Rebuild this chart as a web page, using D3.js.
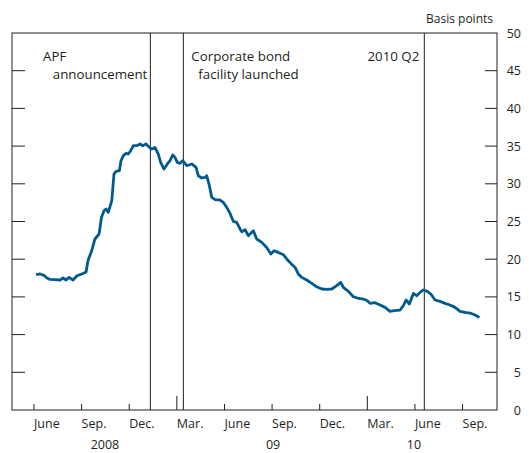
<!DOCTYPE html>
<html><head><meta charset="utf-8">
<script src="https://cdn.jsdelivr.net/npm/d3@7"></script>
<style>
body{margin:0;background:#fff;}
text{font-family:"Open Sans",sans-serif;fill:#231f20;}
</style></head>
<body><svg id="c" width="529" height="453"></svg>
<script>
// months since 1 Jan 2008 (fractional)
const months = [5.13,5.38,5.63,5.82,6.01,6.32,6.64,6.83,7.02,7.21,7.46,7.71,8.02,8.28,8.40,8.65,8.84,9.10,9.25,9.41,9.54,9.68,9.90,10.04,10.17,10.38,10.48,10.63,10.80,10.94,11.09,11.26,11.47,11.68,11.85,12.06,12.27,12.42,12.62,12.83,12.98,13.19,13.40,13.57,13.74,13.88,14.03,14.20,14.37,14.62,14.94,15.21,15.35,15.57,15.78,15.88,16.05,16.20,16.41,16.72,16.93,17.14,17.35,17.56,17.77,17.98,18.09,18.30,18.50,18.82,19.03,19.35,19.66,19.92,20.12,20.39,20.71,20.92,21.18,21.45,21.65,21.87,22.18,22.50,22.81,23.13,23.44,23.76,24.07,24.33,24.49,24.81,25.12,25.37,25.75,26.00,26.17,26.49,26.80,27.12,27.43,27.68,28.06,28.27,28.44,28.65,28.90,29.11,29.32,29.53,29.78,30.00,30.27,30.58,30.90,31.21,31.53,31.84,32.16,32.47,32.79,33.06];
const spread = [17.94,18.04,17.85,17.51,17.32,17.28,17.24,17.51,17.24,17.59,17.24,17.81,18.04,18.30,19.80,21.22,22.68,23.34,25.54,26.43,26.66,26.21,27.76,31.30,31.64,31.74,33.06,33.73,34.03,33.95,34.39,35.05,35.05,35.28,35.05,35.28,34.83,34.62,34.83,33.95,32.84,31.96,32.63,33.06,33.82,33.50,32.84,32.71,33.06,32.40,32.63,32.18,31.07,30.77,30.85,31.07,29.75,28.20,27.89,27.85,27.53,26.87,26.07,25.01,24.88,24.01,23.65,23.91,23.12,23.78,22.68,22.23,21.56,20.69,21.13,20.90,20.60,20.03,19.44,18.91,18.04,17.59,17.24,16.79,16.35,16.05,15.99,16.05,16.49,16.92,16.26,15.73,15.03,14.85,14.72,14.50,14.14,14.23,13.93,13.61,13.08,13.17,13.26,13.83,14.59,14.06,15.46,15.16,15.60,15.92,15.73,15.38,14.59,14.40,14.14,13.93,13.61,13.08,12.94,12.86,12.60,12.28];

const monthTicks = [5,8,11,14,17,20,23,26,29,32];
const monthLabels = ["June","Sep.","Dec.","Mar.","June","Sep.","Dec.","Mar.","June","Sep."];
const longTicks = [14,26];
const yearPos = [9.47,20.06,28.94];
const yearLabels = ["2008","09","10"];
const yTicks = [0,5,10,15,20,25,30,35,40,45,50];
const events = [12.33,14.41,29.59];
const eventLabels = [["APF","announcement"],["Corporate bond","facility launched"],["2010 Q2"]];

const svg = d3.select("#c");
const L=12,R=497,T=33,B=410;
const x = d3.scaleLinear().domain([3.614,34.17]).range([L,R]);
const y = d3.scaleLinear().domain([0,50]).range([B,T]);
const ink="#231f20";

// event lines
svg.selectAll("line.ev").data(events).enter().append("line")
  .attr("x1",d=>x(d)).attr("x2",d=>x(d)).attr("y1",T).attr("y2",B)
  .attr("stroke",ink).attr("stroke-width",1);

// y ticks (inward, both sides)
const inner = yTicks.filter(v=>v>0&&v<50);
svg.selectAll("line.yl").data(inner).enter().append("line")
  .attr("x1",L).attr("x2",L+13).attr("y1",d=>y(d)).attr("y2",d=>y(d))
  .attr("stroke",ink).attr("stroke-width",1);
svg.selectAll("line.yr").data(inner).enter().append("line")
  .attr("x1",R-12).attr("x2",R).attr("y1",d=>y(d)).attr("y2",d=>y(d))
  .attr("stroke",ink).attr("stroke-width",1);
svg.selectAll("text.yt").data(yTicks).enter().append("text")
  .attr("x",521).attr("y",d=>y(d)+4.5).attr("text-anchor","end")
  .attr("font-size",12.5).text(d=>d);
svg.append("text").attr("x",493).attr("y",23).attr("text-anchor","end")
  .attr("font-size",12).text("Basis points");

// x ticks
svg.selectAll("line.xt").data(monthTicks).enter().append("line")
  .attr("x1",d=>x(d)).attr("x2",d=>x(d)).attr("y1",B)
  .attr("y2",d=>B-(longTicks.includes(d)?14:6))
  .attr("stroke",ink).attr("stroke-width",1);
svg.selectAll("text.xm").data(monthTicks).enter().append("text")
  .attr("x",d=>x(d)).attr("y",428).attr("font-size",12.5)
  .text((d,i)=>monthLabels[i]);
svg.selectAll("text.xy").data(yearPos).enter().append("text")
  .attr("x",d=>x(d)).attr("y",449).attr("text-anchor","middle").attr("font-size",12.5)
  .text((d,i)=>yearLabels[i]);

// frame
svg.append("rect").attr("x",L).attr("y",T).attr("width",R-L).attr("height",B-T)
  .attr("fill","none").attr("stroke",ink).attr("stroke-width",1);

// event labels
const lab = svg.append("g").attr("font-size",13.3);
lab.append("text").attr("x",43).attr("y",61).text(eventLabels[0][0]);
lab.append("text").attr("x",x(events[0])-3).attr("y",79).attr("text-anchor","end").text(eventLabels[0][1]);
lab.append("text").attr("x",x(events[1])+8).attr("y",61).text(eventLabels[1][0]);
lab.append("text").attr("x",x(events[1])+15).attr("y",79).text(eventLabels[1][1]);
lab.append("text").attr("x",x(events[2])-5).attr("y",61).attr("text-anchor","end").text(eventLabels[2][0]);

// series
const line = d3.line().x((d,i)=>x(months[i])).y(d=>y(d)).curve(d3.curveLinear);
svg.append("path").datum(spread).attr("d",line).attr("fill","none")
  .attr("stroke","#005a8c").attr("stroke-width",2.8).attr("stroke-linejoin","round");
</script></body></html>
